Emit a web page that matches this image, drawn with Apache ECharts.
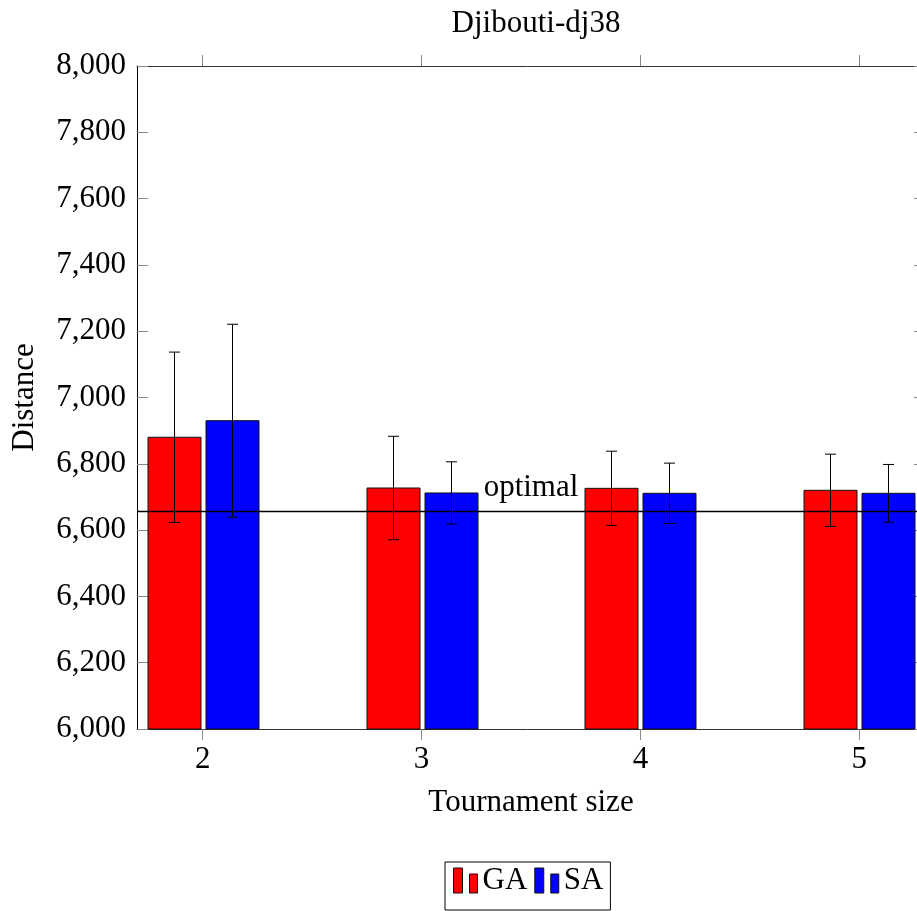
<!DOCTYPE html>
<html>
<head>
<meta charset="utf-8">
<title>Djibouti-dj38</title>
<script src="https://cdn.jsdelivr.net/npm/echarts@6/dist/echarts.min.js"></script>
<style>
  html, body { margin: 0; padding: 0; background: #fff; }
  #chart { width: 917px; height: 911px; }
</style>
</head>
<body>
<div id="chart"></div>
<script>
// tournament sizes
var categories = [2, 3, 4, 5];
// mean distance and std error bar
var gaMean = [6880, 6727, 6726, 6720];
var gaErr = [257, 156, 112, 109];
var saMean = [6930, 6712, 6711, 6711];
var saErr = [291, 94, 91, 87];
var optimal = 6656;

var Y_MIN = 6000, Y_MAX = 8000, Y_STEP = 200;
var X_MIN = 1.7, X_MAX = 5.3;
var FONT = 'Liberation Serif';
var BAR_W = 53;

var myChart = echarts.init(document.getElementById('chart'));

function toRows(means, errs) {
  return categories.map(function (c, i) { return [c, means[i], errs[i]]; });
}

// bar + error bar, shifted left/right of the tick
function barRenderer(offset) {
  return function (params, api) {
    var x = api.value(0), mean = api.value(1), err = api.value(2);
    var base = api.coord([x, Y_MIN]);
    var top = api.coord([x, mean]);
    var hi = api.coord([x, mean + err]);
    var lo = api.coord([x, mean - err]);
    var cx = Math.round(top[0] + offset) + 0.5;
    var cap = 5.5;
    var line = { stroke: '#000', lineWidth: 1 };
    return {
      type: 'group',
      children: [
        {
          type: 'rect',
          shape: { x: cx - BAR_W / 2, y: top[1], width: BAR_W, height: base[1] - top[1] },
          style: { fill: api.visual('color'), stroke: '#111', lineWidth: 1 }
        },
        { type: 'line', shape: { x1: cx, y1: hi[1], x2: cx, y2: lo[1] }, style: line },
        { type: 'line', shape: { x1: cx - cap, y1: hi[1], x2: cx + cap, y2: hi[1] }, style: line },
        { type: 'line', shape: { x1: cx - cap, y1: lo[1], x2: cx + cap, y2: lo[1] }, style: line }
      ]
    };
  };
}

var legendIcon = 'path://M0,0H9V25H0Z M16,6H24V25H16Z';

var xAxisBase = {
  type: 'value',
  min: X_MIN,
  max: X_MAX,
  splitLine: { show: false },
  axisLine: { lineStyle: { color: '#333', width: 1 } },
  axisTick: { customValues: categories, inside: false, length: 11, lineStyle: { color: '#888' } }
};

var yAxisBase = {
  type: 'value',
  min: Y_MIN,
  max: Y_MAX,
  interval: Y_STEP,
  splitLine: { show: false },
  axisLine: { show: true, lineStyle: { color: '#000', width: 1 } },
  axisTick: { inside: true, length: 11, lineStyle: { color: '#888' } }
};

var option = {
  backgroundColor: '#fff',
  animation: false,
  title: {
    text: 'Djibouti-dj38',
    left: 531,
    textAlign: 'center',
    top: 3,
    textStyle: { fontFamily: FONT, fontSize: 31, fontWeight: 'normal', color: '#000' }
  },
  legend: {
    left: 445,
    top: 862,
    orient: 'horizontal',
    selectedMode: false,
    padding: [3, 7, 14, 8],
    itemGap: 7,
    itemWidth: 24,
    itemHeight: 25,
    borderColor: '#000',
    borderWidth: 1,
    textStyle: { fontFamily: FONT, fontSize: 31, color: '#000', lineHeight: 31 },
    data: [
      { name: 'GA', icon: legendIcon, itemStyle: { color: '#ff0000', borderColor: '#111', borderWidth: 1 } },
      { name: 'SA', icon: legendIcon, itemStyle: { color: '#0000ff', borderColor: '#111', borderWidth: 1 } }
    ]
  },
  grid: {
    left: 137,
    right: -8,
    top: 66,
    bottom: 182,
    containLabel: false,
    outerBoundsMode: 'none'
  },
  xAxis: [
    Object.assign({}, xAxisBase, {
      position: 'bottom',
      name: 'Tournament size',
      nameLocation: 'middle',
      nameGap: 58,
      nameTextStyle: { fontFamily: FONT, fontSize: 31, color: '#000' },
      axisLabel: { customValues: categories, margin: 15, fontFamily: FONT, fontSize: 31, color: '#000' }
    }),
    Object.assign({}, xAxisBase, {
      position: 'top',
      axisLabel: { show: false }
    })
  ],
  yAxis: [
    Object.assign({}, yAxisBase, {
      position: 'left',
      name: 'Distance',
      nameLocation: 'middle',
      nameGap: 97,
      nameTextStyle: { fontFamily: FONT, fontSize: 31, color: '#000' },
      axisLabel: {
        margin: 11,
        fontFamily: FONT,
        fontSize: 31,
        color: '#000',
        formatter: function (v) { return v.toLocaleString('en-US'); }
      }
    }),
    Object.assign({}, yAxisBase, {
      position: 'right',
      axisLabel: { show: false }
    })
  ],
  series: [
    {
      name: 'GA',
      type: 'custom',
      xAxisIndex: 0,
      yAxisIndex: 0,
      itemStyle: { color: '#ff0000' },
      encode: { x: 0, y: 1 },
      renderItem: barRenderer(-29),
      data: toRows(gaMean, gaErr),
      markLine: {
        silent: true,
        symbol: 'none',
        lineStyle: { color: '#000', width: 1.3, type: 'solid' },
        label: {
          show: true,
          position: 'insideMiddleTop',
          formatter: 'optimal',
          distance: 8,
          fontFamily: FONT,
          fontSize: 31,
          color: '#000'
        },
        data: [{ yAxis: optimal }],
        z: 10
      }
    },
    {
      name: 'SA',
      type: 'custom',
      xAxisIndex: 0,
      yAxisIndex: 0,
      itemStyle: { color: '#0000ff' },
      encode: { x: 0, y: 1 },
      renderItem: barRenderer(29),
      data: toRows(saMean, saErr)
    }
  ]
};

myChart.setOption(option);
</script>
</body>
</html>
